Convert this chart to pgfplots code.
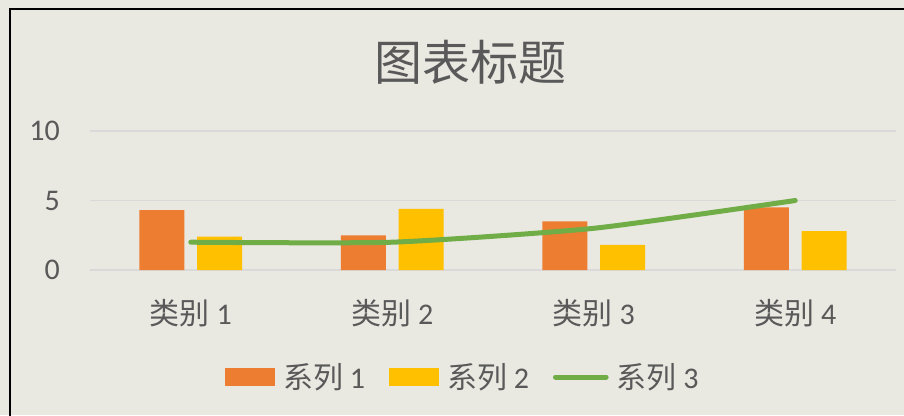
\documentclass[border=0pt]{standalone}
\usepackage{pgfplots}
\pgfplotsset{compat=1.18}
\usepackage{fontspec}
\setmainfont{Carlito}
\newfontfamily\cjk{Noto Sans CJK SC}
\definecolor{bg}{HTML}{E9E8E1}
\definecolor{gridc}{HTML}{D9D9D9}
\definecolor{txt}{HTML}{595959}
\definecolor{c1}{HTML}{ED7D31}
\definecolor{c2}{HTML}{FFC000}
\definecolor{c3}{HTML}{70AD47}
\begin{document}
\begin{tikzpicture}
\fill[bg] (0,0) rectangle (678pt,311.25pt);
\draw[black, line width=1.6pt] (7.5pt,-2pt) -- (7.5pt,304.5pt) -- (680pt,304.5pt);
\begin{axis}[
  at={(67.5pt,108.75pt)}, anchor=south west,
  scale only axis, width=604.5pt, height=104.25pt,
  xmin=-0.5, xmax=3.5, ymin=0, ymax=10,
  xtick={0,1,2,3},
  xticklabels={{{\cjk 类别} 1},{{\cjk 类别} 2},{{\cjk 类别} 3},{{\cjk 类别} 4}},
  ytick={0,5,10},
  ymajorgrids, grid style={draw=gridc, line width=1.3pt},
  axis line style={draw=none}, major tick length=0pt,
  tick label style={font=\fontsize{22.5}{27}\selectfont, text=txt},
  /pgf/number format/assume math mode=true,
  yticklabel style={anchor=east, inner sep=0pt, xshift=-22.5pt},
  xticklabel style={anchor=base, inner sep=0pt, yshift=-40.5pt},
  legend columns=3,
  legend style={at={(axis description cs:0.463,-0.77)}, anchor=center,
    draw=none, fill=none, font=\fontsize{22.5}{27}\selectfont, text=txt,
    nodes={inner sep=2pt},
    /tikz/every odd column/.append style={column sep=4pt},
    /tikz/every even column/.append style={column sep=16pt}},
]
\addplot[ybar, fill=c1, draw=none, bar width=0.223, bar shift=-0.143,
  legend image code/.code={\fill[c1] (0pt,-6.75pt) rectangle (37.5pt,6.75pt);}]
  coordinates {(0,4.3) (1,2.5) (2,3.5) (3,4.5)};
\addlegendentry{{\cjk 系列} 1}
\addplot[ybar, fill=c2, draw=none, bar width=0.223, bar shift=0.143,
  legend image code/.code={\fill[c2] (0pt,-6.75pt) rectangle (37.5pt,6.75pt);}]
  coordinates {(0,2.4) (1,4.4) (2,1.8) (3,2.8)};
\addlegendentry{{\cjk 系列} 2}
\addplot[smooth, tension=0.35, color=c3, line width=3.75pt, line cap=round, mark=none,
  legend image code/.code={\draw[c3, line width=3.75pt, line cap=round] (1pt,0pt) -- (39pt,0pt);}]
  coordinates {(0,2) (1,2) (2,3) (3,5)};
\addlegendentry{{\cjk 系列} 3}
\end{axis}
\node[font=\fontsize{36}{40}\selectfont\cjk, text=txt] at (352.5pt,264.75pt) {图表标题};
\pgfresetboundingbox
\useasboundingbox (0,0) rectangle (678pt,311.25pt);
\end{tikzpicture}
\end{document}
